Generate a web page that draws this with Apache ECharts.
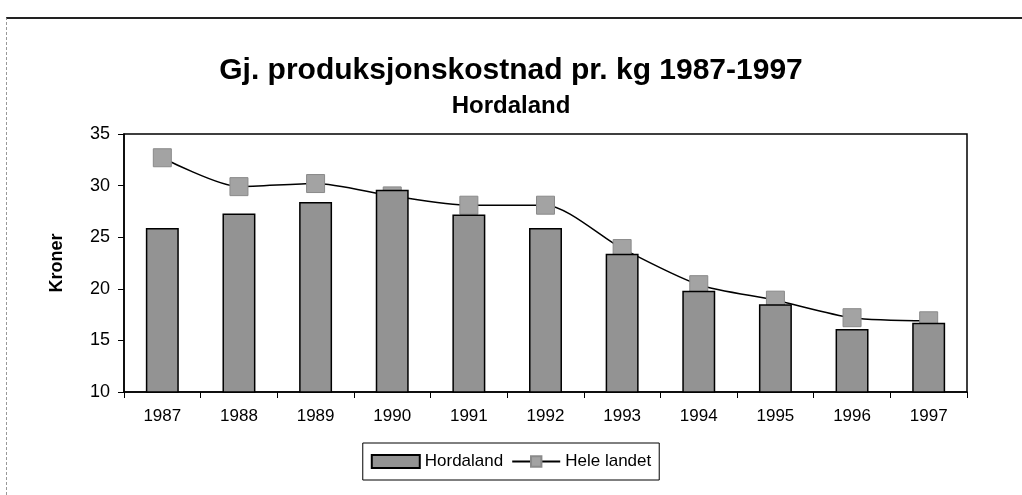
<!DOCTYPE html>
<html>
<head>
<meta charset="utf-8">
<script src="https://cdn.jsdelivr.net/npm/echarts@6/dist/echarts.min.js"></script>
<style>
html,body{margin:0;padding:0;background:#fff;}
#frame{position:absolute;left:6px;top:17px;width:1016px;height:478px;border-top:2px solid #222;border-left:1px dashed #999;box-sizing:border-box;}
#chart{position:absolute;left:0;top:0;width:1022px;height:495px;}
</style>
</head>
<body>
<div id="frame"></div>
<div id="chart"></div>
<script>
const categories = ['1987','1988','1989','1990','1991','1992','1993','1994','1995','1996','1997'];
const hordaland = [25.9, 27.3, 28.4, 29.6, 27.2, 25.9, 23.4, 19.8, 18.5, 16.1, 16.7];
const heleLandet = [32.7, 29.9, 30.2, 29.0, 28.1, 28.1, 23.9, 20.4, 18.9, 17.2, 16.9];
const yTicks = [10, 15, 20, 25, 30, 35];

const chart = echarts.init(document.getElementById('chart'), null, {renderer: 'canvas'});
const font = 'Liberation Sans, Arial, sans-serif';
chart.setOption({
  backgroundColor: 'transparent',
  animation: false,
  title: [
    {text: 'Gj. produksjonskostnad pr. kg 1987-1997', left: 'center', top: 51,
     textStyle: {fontFamily: font, fontSize: 30, fontWeight: 'bold', color: '#000'}},
    {text: 'Hordaland', left: 'center', top: 89,
     textStyle: {fontFamily: font, fontSize: 24, fontWeight: 'bold', color: '#000'}}
  ],
  grid: {left: 124, right: 55, top: 134, bottom: 103, show: true, borderColor: '#000', borderWidth: 1.5, backgroundColor: 'transparent'},
  legend: {
    top: 443, left: 'center',
    borderColor: '#000', borderWidth: 1, padding: [10, 8, 10, 8],
    itemWidth: 48, itemHeight: 13, itemGap: 8,
    textStyle: {fontFamily: font, fontSize: 17, color: '#000'},
    data: [
      {name: 'Hordaland', icon: 'rect'},
      {name: 'Hele landet'}
    ]
  },
  xAxis: {
    type: 'category', data: categories,
    axisLine: {lineStyle: {color: '#000', width: 1.5}},
    axisTick: {show: true, inside: false, length: 6, lineStyle: {color: '#000'}},
    axisLabel: {fontFamily: font, fontSize: 17, color: '#000', margin: 16}
  },
  yAxis: {
    type: 'value', min: 10, max: 35, interval: 5,
    name: 'Kroner', nameLocation: 'middle', nameGap: 58, nameRotate: 90,
    nameTextStyle: {fontFamily: font, fontSize: 18, fontWeight: 'bold', color: '#000'},
    axisLine: {show: true, lineStyle: {color: '#000', width: 1.5}},
    axisTick: {show: true, length: 6, lineStyle: {color: '#000'}},
    splitLine: {show: false},
    axisLabel: {fontFamily: font, fontSize: 18, color: '#000', margin: 14,
      formatter: v => yTicks.includes(v) ? String(v) : ''}
  },
  series: [
    {
      name: 'Hele landet', type: 'line', data: heleLandet, smooth: 0.25,
      symbol: 'rect', symbolSize: 18,
      lineStyle: {color: '#000', width: 1.5},
      itemStyle: {color: '#a3a3a3', borderColor: '#8a8a8a', borderWidth: 1},
      z: 1
    },
    {
      name: 'Hordaland', type: 'bar', data: hordaland, barWidth: '43%',
      itemStyle: {color: '#939393', borderColor: '#000', borderWidth: 1.5},
      z: 2
    }
  ]
});
</script>
</body>
</html>
